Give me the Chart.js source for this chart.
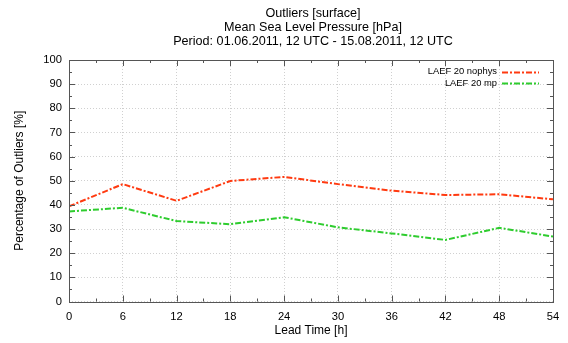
<!DOCTYPE html>
<html>
<head>
<meta charset="utf-8">
<script src="https://cdn.jsdelivr.net/npm/chart.js@4/dist/chart.umd.min.js"></script>
<style>
html,body{margin:0;padding:0;background:#fff;}
#wrap{width:568px;height:343px;}
</style>
</head>
<body>
<div id="wrap"><canvas id="c" width="568" height="343"></canvas></div>
<script>
const titleLines = ["Outliers [surface]", "Mean Sea Level Pressure [hPa]", "Period: 01.06.2011, 12 UTC - 15.08.2011, 12 UTC"];
const leadTimes = [0, 6, 12, 18, 24, 30, 36, 42, 48, 54];
const nophys = [39.4, 48.6, 41.7, 49.9, 51.6, 48.6, 45.9, 44.1, 44.4, 42.3];
const mp = [37.3, 38.8, 33.3, 32.0, 34.9, 30.7, 28.2, 25.5, 30.5, 26.9];
const seriesNames = ["LAEF 20 nophys", "LAEF 20 mp"];
const seriesColors = ["#ff3a10", "#2ecc2e"];
const xLabel = "Lead Time [h]";
const yLabel = "Percentage of Outliers [%]";

const FONT = "'Liberation Sans', Arial, sans-serif";
const dash = [6, 2, 2, 2];

const framePlugin = {
  id: 'frame',
  afterDraw(chart) {
    const ctx = chart.ctx, a = chart.chartArea;
    const xs = chart.scales.x, ys = chart.scales.y;
    ctx.save();
    ctx.strokeStyle = '#555';
    ctx.lineWidth = 1;
    ctx.setLineDash([]);
    ctx.strokeRect(Math.round(a.left) + 0.5, Math.round(a.top) + 0.5, Math.round(a.right - a.left), Math.round(a.bottom - a.top));
    ctx.beginPath();
    for (let v = 0; v <= 54; v += 3) {
      const px = Math.round(xs.getPixelForValue(v)) + 0.5;
      const len = (v % 6 === 0) ? 6 : 3;
      ctx.moveTo(px, a.bottom); ctx.lineTo(px, a.bottom - len);
      ctx.moveTo(px, a.top); ctx.lineTo(px, a.top + len);
    }
    for (let v = 0; v <= 100; v += 5) {
      const py = Math.round(ys.getPixelForValue(v)) + 0.5;
      const len = (v % 10 === 0) ? 6 : 3;
      ctx.moveTo(a.left, py); ctx.lineTo(a.left + len, py);
      ctx.moveTo(a.right, py); ctx.lineTo(a.right - len, py);
    }
    ctx.stroke();
    // titles
    ctx.fillStyle = '#000';
    ctx.font = '12.6px ' + FONT;
    ctx.textAlign = 'center';
    ctx.textBaseline = 'middle';
    const cy = [14, 27.5, 41.5];
    const cx = (a.left + a.right) / 2 + 2;
    titleLines.forEach((t, i) => ctx.fillText(t, cx, cy[i]));
    // legend
    ctx.font = '9.4px ' + FONT;
    ctx.textAlign = 'right';
    chart.data.datasets.forEach((ds, i) => {
      const y = 71.7 + i * 11.6;
      ctx.fillStyle = '#000';
      ctx.fillText(ds.label, 497, y);
      ctx.strokeStyle = ds.borderColor;
      ctx.lineWidth = 2;
      ctx.setLineDash(dash);
      ctx.beginPath();
      ctx.moveTo(502, Math.round(y) + 0.5);
      ctx.lineTo(539, Math.round(y) + 0.5);
      ctx.stroke();
    });
    ctx.restore();
  }
};

new Chart(document.getElementById('c'), {
  type: 'line',
  data: {
    datasets: [
      { label: seriesNames[0], data: leadTimes.map((x, i) => ({x, y: nophys[i]})), borderColor: seriesColors[0], borderWidth: 2, borderDash: dash, pointRadius: 0, fill: false, tension: 0 },
      { label: seriesNames[1], data: leadTimes.map((x, i) => ({x, y: mp[i]})), borderColor: seriesColors[1], borderWidth: 2, borderDash: dash, pointRadius: 0, fill: false, tension: 0 }
    ]
  },
  options: {
    responsive: false,
    animation: false,
    layout: { padding: { left: 0, right: 15, top: 60, bottom: 0 } },
    plugins: { legend: { display: false }, title: { display: false }, tooltip: { enabled: false } },
    scales: {
      x: {
        type: 'linear', min: 0, max: 54,
        ticks: { stepSize: 6, color: '#000', font: { family: FONT, size: 11.2 }, padding: 8.5, maxRotation: 0 },
        grid: { color: '#d0d0d0', drawTicks: false },
        border: { display: false, dash: [1, 2] },
        title: { display: true, text: xLabel, color: '#000', font: { family: FONT, size: 12 }, padding: { top: 0, bottom: 5 } },
        afterFit(s) { s.height = 41.5; }
      },
      y: {
        min: 0, max: 100,
        ticks: { stepSize: 10, color: '#000', font: { family: FONT, size: 11.2 }, padding: 7 },
        grid: { color: '#d0d0d0', drawTicks: false },
        border: { display: false, dash: [1, 2] },
        title: { display: true, text: yLabel, color: '#000', font: { family: FONT, size: 12 }, padding: { top: 12, bottom: 0 } },
        afterFit(s) { s.width = 69; }
      }
    }
  },
  plugins: [framePlugin]
});
</script>
</body>
</html>
